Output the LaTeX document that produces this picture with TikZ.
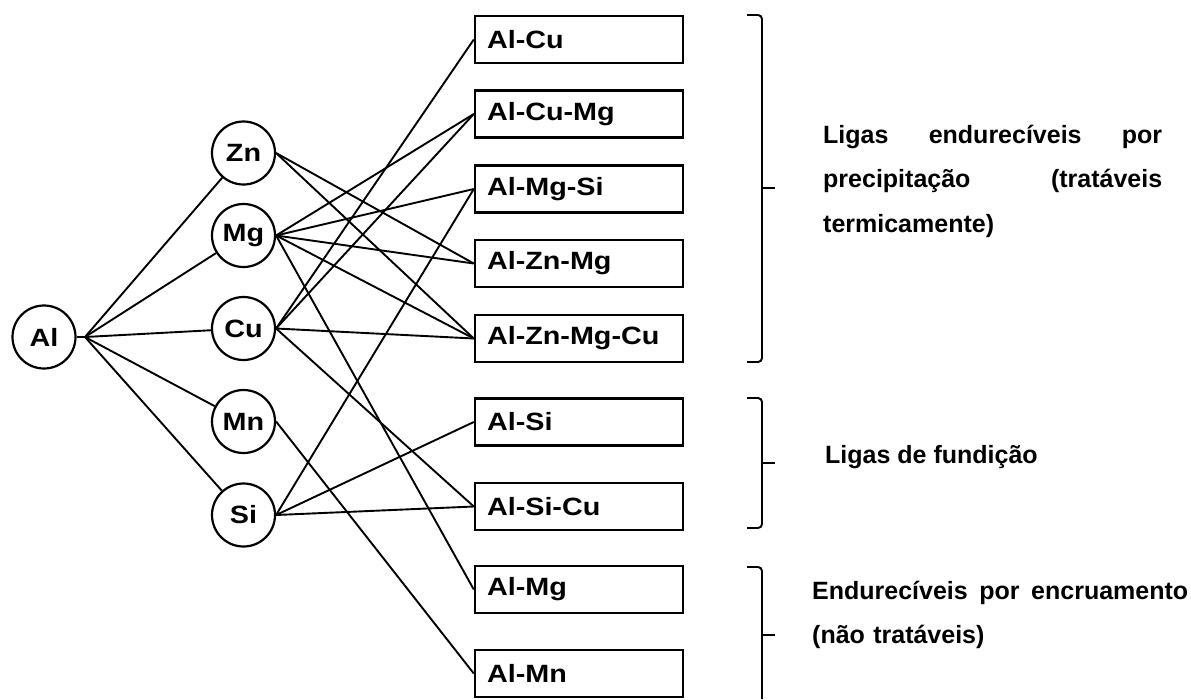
\documentclass[tikz,border=0pt]{standalone}
\usepackage{fontspec}
\setmainfont{Liberation Sans}
\newfontfamily\widefont[FakeStretch=1.15]{Liberation Sans}
\usepackage{tikz}
\usetikzlibrary{shapes}

\tikzset{
  elem/.style={draw, circle, line width=2.2pt, minimum size=63pt, inner sep=0pt,
    font=\widefont\fontsize{25}{30}\selectfont\bfseries},
  alloy/.style={draw, rectangle, line width=2.4pt, minimum height=47pt,
    text width=184pt, inner xsep=12pt, align=left,
    font=\widefont\fontsize{25}{30}\selectfont\bfseries},
  link/.style={line width=1.9pt},
  note/.style={anchor=west, inner sep=0pt, align=left,
    font=\fontsize{25}{44.5}\selectfont\bfseries},
}

\begin{document}
\begin{tikzpicture}[x=1pt, y=-1pt]

  \useasboundingbox (0,0) rectangle (1191,699);

  \newcommand\XE{243.5};
  \newcommand\XB{579};
  \newcommand\XK{762};

  % elements
  \node[elem] (al) at (44, 337) {Al};
  \node[elem] (zn) at (\XE, 153) {Zn};
  \node[elem] (mg) at (\XE, 235.5) {Mg};
  \node[elem] (cu) at (\XE, 328.5) {Cu};
  \node[elem] (mn) at (\XE, 421.5) {Mn};
  \node[elem] (si) at (\XE, 515) {Si};

  % alloys
  \node[alloy] (alcu) at (\XB, 39.5) {Al-Cu};
  \node[alloy] (alcumg) at (\XB, 114) {Al-Cu-Mg};
  \node[alloy] (almgsi) at (\XB, 189) {Al-Mg-Si};
  \node[alloy] (alznmg) at (\XB, 263.5) {Al-Zn-Mg};
  \node[alloy] (alznmgcu) at (\XB, 338.5) {Al-Zn-Mg-Cu};
  \node[alloy] (alsi) at (\XB, 422) {Al-Si};
  \node[alloy] (alsicu) at (\XB, 506.5) {Al-Si-Cu};
  \node[alloy] (almg) at (\XB, 589.5) {Al-Mg};
  \node[alloy] (almn) at (\XB, 673.5) {Al-Mn};

  \coordinate (fan) at (85, 337);
  \draw[link] (al) -- (fan);
  \foreach \e in {zn, mg, cu, mn, si}
    \draw[link] (fan) -- (\e);

  \foreach \a in {alznmg, alznmgcu}
    \draw[link] (zn.east) -- (\a.west);
  \foreach \a in {alcumg, almgsi, alznmg, alznmgcu, almg}
    \draw[link] (mg.east) -- (\a.west);
  \foreach \a in {alcu, alcumg, alznmgcu, alsicu}
    \draw[link] (cu.east) -- (\a.west);
  \draw[link] (mn.east) -- (almn.west);
  \foreach \a in {almgsi, alsi, alsicu}
    \draw[link] (si.east) -- (\a.west);

  % brackets
  \draw[link, rounded corners=4pt] (747, 15) -- (\XK, 15) -- (\XK, 362) -- (747, 362);
  \draw[link] (\XK, 188) -- (775, 188);
  \draw[link, rounded corners=4pt] (747, 398) -- (\XK, 398) -- (\XK, 528) -- (747, 528);
  \draw[link] (\XK, 463) -- (775, 463);
  \draw[link, rounded corners=4pt] (747, 567) -- (\XK, 567) -- (\XK, 699);
  \draw[link] (\XK, 635) -- (775, 635);

  \node[note, text width=339pt] (precip) at (823, 181)
    {Ligas\hfill endurecíveis\hfill por\\
     precipitação\hfill (tratáveis\\
     termicamente)};
  \node[note] (fund) at (825, 457) {Ligas de fundição};
  \node[note, text width=376pt] (encru) at (812, 615)
    {Endurecíveis\hfill por\hfill encruamento\\
     (não tratáveis)};

\end{tikzpicture}
\end{document}
